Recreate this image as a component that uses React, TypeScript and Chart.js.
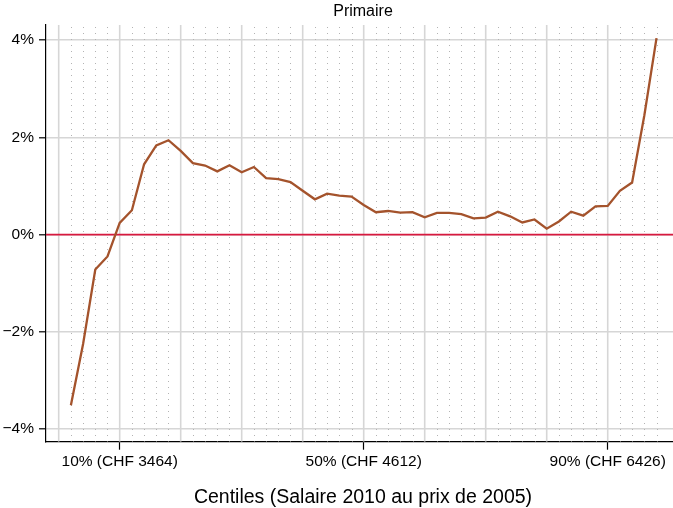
import React, { useEffect, useRef } from "react";
import { Chart, registerables } from "chart.js";

Chart.register(...registerables);

const chartTitle = "Primaire";
const xAxisTitle = "Centiles (Salaire 2010 au prix de 2005)";

const centiles = [
  2, 4, 6, 8, 10, 12, 14, 16, 18, 20, 22, 24, 26, 28, 30, 32, 34, 36, 38, 40,
  42, 44, 46, 48, 50, 52, 54, 56, 58, 60, 62, 64, 66, 68, 70, 72, 74, 76, 78, 80,
  82, 84, 86, 88, 90, 92, 94, 96, 98,
];

const changePct = [
  -3.51, -2.25, -0.72, -0.45, 0.24, 0.5, 1.445, 1.835, 1.94, 1.72,
  1.47, 1.42, 1.3, 1.425, 1.28, 1.39, 1.16, 1.14, 1.08, 0.9,
  0.725, 0.84, 0.8, 0.78, 0.61, 0.46, 0.485, 0.45, 0.46, 0.355,
  0.445, 0.445, 0.42, 0.335, 0.35, 0.47, 0.375, 0.25, 0.31, 0.12,
  0.27, 0.47, 0.39, 0.58, 0.59, 0.9, 1.07, 2.45, 4.04,
];

const xTickValues = [10, 50, 90];
const xTickLabels = ["10% (CHF 3464)", "50% (CHF 4612)", "90% (CHF 6426)"];
const yTickValues = [-4, -2, 0, 2, 4];
const yTickLabels = ["\u22124%", "\u22122%", "0%", "2%", "4%"];

const majorGridValues = [0, 10, 20, 30, 40, 50, 60, 70, 80, 90];
const minorGridValues = centiles.filter((c) => c % 10 !== 0);

const xMin = -2.08;
const xMax = 101.85;
const yMin = -4.26;
const yMax = 4.31;

const FONT = "'Liberation Sans', Arial, Helvetica, sans-serif";

const gridPlugin = {
  id: "customGrid",
  beforeDatasetsDraw(chart: any) {
    const { ctx, chartArea: a, scales } = chart;
    const x = scales.x;
    const y = scales.y;
    ctx.save();
    ctx.beginPath();
    ctx.rect(a.left, a.top, a.right - a.left, a.bottom - a.top);
    ctx.clip();
    // dotted minor verticals
    ctx.strokeStyle = "#b3b3b3";
    ctx.lineWidth = 1;
    ctx.setLineDash([1, 5]);
    for (const v of minorGridValues) {
      const px = Math.round(x.getPixelForValue(v)) + 0.5;
      ctx.beginPath();
      ctx.moveTo(px, a.top + 2);
      ctx.lineTo(px, a.bottom);
      ctx.stroke();
    }
    ctx.setLineDash([]);
    // solid major verticals
    ctx.strokeStyle = "#d6d6d6";
    ctx.lineWidth = 1.6;
    for (const v of majorGridValues) {
      const px = x.getPixelForValue(v);
      ctx.beginPath();
      ctx.moveTo(px, a.top);
      ctx.lineTo(px, a.bottom);
      ctx.stroke();
    }
    // zero reference line
    const zy = y.getPixelForValue(0);
    ctx.strokeStyle = "#d7193f";
    ctx.lineWidth = 1.8;
    ctx.beginPath();
    ctx.moveTo(a.left, zy);
    ctx.lineTo(a.right, zy);
    ctx.stroke();
    ctx.restore();
  },
};

export default function App() {
  const canvasRef = useRef<HTMLCanvasElement | null>(null);

  useEffect(() => {
    if (!canvasRef.current) return;
    Chart.defaults.font.family = FONT;
    const chart = new Chart(canvasRef.current, {
      type: "line",
      data: {
        datasets: [
          {
            data: centiles.map((c, i) => ({ x: c, y: changePct[i] })),
            borderColor: "#a4532c",
            borderWidth: 2.3,
            pointRadius: 0,
            tension: 0,
            fill: false,
          },
        ],
      },
      options: {
        animation: false,
        responsive: false,
        devicePixelRatio: 1,
        events: [],
        layout: { padding: 0 },
        plugins: {
          legend: { display: false },
          tooltip: { enabled: false },
          title: {
            display: true,
            text: chartTitle,
            color: "#000",
            fullSize: false,
            font: { size: 16, weight: "normal", lineHeight: 1, family: FONT },
            padding: { top: 3.2, bottom: 5.8 },
          },
        },
        scales: {
          x: {
            type: "linear",
            min: xMin,
            max: xMax,
            afterBuildTicks: (s: any) => {
              s.ticks = xTickValues.map((v) => ({ value: v }));
            },
            afterFit: (s: any) => {
              s.height = 66.3;
            },
            ticks: {
              callback: (_v: any, i: number) => xTickLabels[i],
              color: "#000",
              font: { size: 15.5, family: FONT },
              padding: 3,
              maxRotation: 0,
              autoSkip: false,
            },
            grid: {
              drawOnChartArea: false,
              tickColor: "#000",
              tickLength: 8,
              tickWidth: 1.2,
            },
            border: { color: "#000", width: 1.2 },
            title: {
              display: true,
              text: xAxisTitle,
              color: "#000",
              font: { size: 19.5, lineHeight: 1, family: FONT },
              padding: { top: 0, bottom: 1 },
            },
          },
          y: {
            type: "linear",
            min: yMin,
            max: yMax,
            afterBuildTicks: (s: any) => {
              s.ticks = yTickValues.map((v) => ({ value: v }));
            },
            afterFit: (s: any) => {
              s.width = 46;
            },
            ticks: {
              callback: (_v: any, i: number) => yTickLabels[i],
              color: "#000",
              font: { size: 15.5, family: FONT },
              padding: 5,
            },
            grid: {
              color: "#d6d6d6",
              lineWidth: 1.6,
              tickColor: "#000",
              tickLength: 7,
              tickWidth: 1.2,
            },
            border: { color: "#000", width: 1.2 },
          },
        },
      } as any,
      plugins: [gridPlugin],
    });
    return () => chart.destroy();
  }, []);

  return (
    <div
      style={{
        position: "absolute",
        left: 0,
        top: 0,
        width: 673,
        height: 508,
        overflow: "hidden",
        background: "#fff",
      }}
    >
      <canvas
        ref={canvasRef}
        width={680}
        height={508}
        style={{ display: "block", width: 680, height: 508 }}
      />
    </div>
  );
}
